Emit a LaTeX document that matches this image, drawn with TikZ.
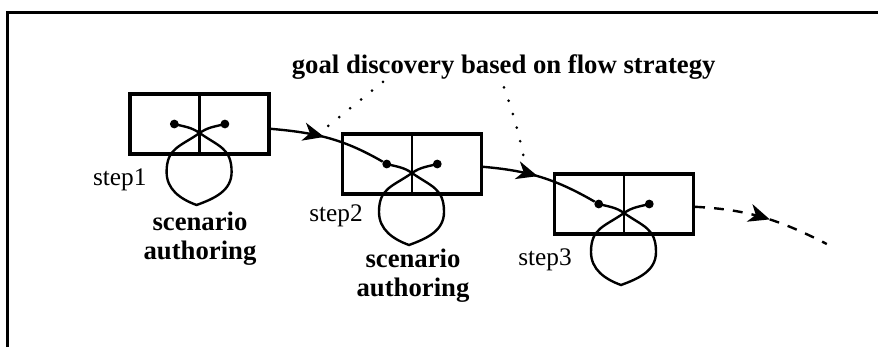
\documentclass[tikz,border=0pt]{standalone}
\usepackage{fontspec}
\setmainfont{Liberation Serif}
\usetikzlibrary{arrows.meta,decorations.markings,positioning}

\begin{document}
\begin{tikzpicture}[box/.style={draw,line width=2.3pt,
		minimum width=3.475cm,minimum height=1.5cm,inner sep=0pt},
	dot/.style={circle,fill=black,inner sep=0pt,minimum size=0.22cm},
	lbl/.style={inner sep=0pt,font=\fontsize{18}{21}\selectfont},
	blbl/.style={inner sep=0pt,align=center,
		font=\fontsize{19}{20.6}\selectfont\bfseries},
	loopline/.style={line width=1.7pt},
	flow/.style={line width=1.7pt,postaction={decorate,solid},
		decoration={markings,mark=at position #1 with
			{\arrow{Stealth[length=15pt,width=13pt,inset=4.5pt]}}}},
	hint/.style={line width=2.1pt,line cap=round,dash pattern=on 0pt off 10pt}]
	\useasboundingbox (0,0) rectangle (21.95,8.675);
	% frame
	\coordinate (f0) at (0.19,0);
	\coordinate (f1) at (0.19,8.36);
	\coordinate (f2) at (21.95,8.36);
	\draw[line width=1.8pt] (f0)--(f1)--(f2);
	% steps
	\node[box] (b1) at (4.99,5.575) {};
	\node[box] (b2) at (10.3,4.575) {};
	\node[box] (b3) at (15.6,3.575) {};
	\draw[loopline] (b1.north)--(b1.south);
	\draw[loopline] (b2.north)--(b2.south);
	\draw[loopline] (b3.north)--(b3.south);
	\coordinate[below=0.225cm of b1.center] (x1);
	\coordinate[below=0.225cm of b2.center] (x2);
	\coordinate[below=0.225cm of b3.center] (x3);
	\node[dot, left=0.515cm of b1.center] (l1) {};
	\node[dot, right=0.515cm of b1.center] (r1) {};
	\node[dot, left=0.515cm of b2.center] (l2) {};
	\node[dot, right=0.515cm of b2.center] (r2) {};
	\node[dot, left=0.515cm of b3.center] (l3) {};
	\node[dot, right=0.515cm of b3.center] (r3) {};
	% authoring loops
	\draw[loopline] (l1.center) to[out=-15,in=145] (x1) to[out=-35,in=90,looseness=1.2] ++(0.8,-0.975)
		to[out=-90,in=20] ++(-0.875,-0.825) to[out=160,in=-90] ++(-0.75,0.825)
		to[out=90,in=-145,looseness=1.2] (x1) to[out=35,in=195] (r1.center);
	\draw[loopline] (l2.center) to[out=-15,in=145] (x2) to[out=-35,in=90,looseness=1.2] ++(0.8,-0.975)
		to[out=-90,in=20] ++(-0.875,-0.825) to[out=160,in=-90] ++(-0.75,0.825)
		to[out=90,in=-145,looseness=1.2] (x2) to[out=35,in=195] (r2.center);
	\draw[loopline] (l3.center) to[out=-15,in=145] (x3) to[out=-35,in=90,looseness=1.2] ++(0.8,-0.975)
		to[out=-90,in=20] ++(-0.875,-0.825) to[out=160,in=-90] ++(-0.75,0.825)
		to[out=90,in=-145,looseness=1.2] (x3) to[out=35,in=195] (r3.center);
	% flow between steps
	\coordinate (tail) at (20.67,2.575);
	\draw[flow=0.46] ([yshift=-0.12cm]b1.east) to[out=-5,in=150] (l2);
	\draw[flow=0.47] ([yshift=-0.07cm]b2.east) to[out=-5,in=150] (l3);
	\draw[flow=0.55,dash pattern=on 7pt off 6.5pt] ([yshift=-0.07cm]b3.east)
		to[out=-3,in=153] (tail);
	% labels
	\node[lbl, anchor=base east] (s1) at (3.67,4.05) {step1};
	\node[lbl, anchor=base east] (s2) at (9.075,3.13) {step2};
	\node[lbl, anchor=base east] (s3) at (14.3,2.05) {step3};
	\node[blbl, anchor=north] (a1) at (5.0,3.38) {scenario\\authoring};
	\node[blbl, anchor=north] (a2) at (10.325,2.45) {scenario\\authoring};
	\node[blbl, anchor=base west] (goal) at (7.29,6.85)
		{goal discovery based on flow strategy};
	% hints
	\coordinate (g1) at (9.575,6.63);
	\coordinate (h1) at (7.925,5.3);
	\coordinate (g2) at (12.6,6.49);
	\coordinate (h2) at (13.125,4.59);
	\draw[hint] (g1)--(h1);
	\draw[hint] (g2) to[bend left=4] (h2);
\end{tikzpicture}
\end{document}
